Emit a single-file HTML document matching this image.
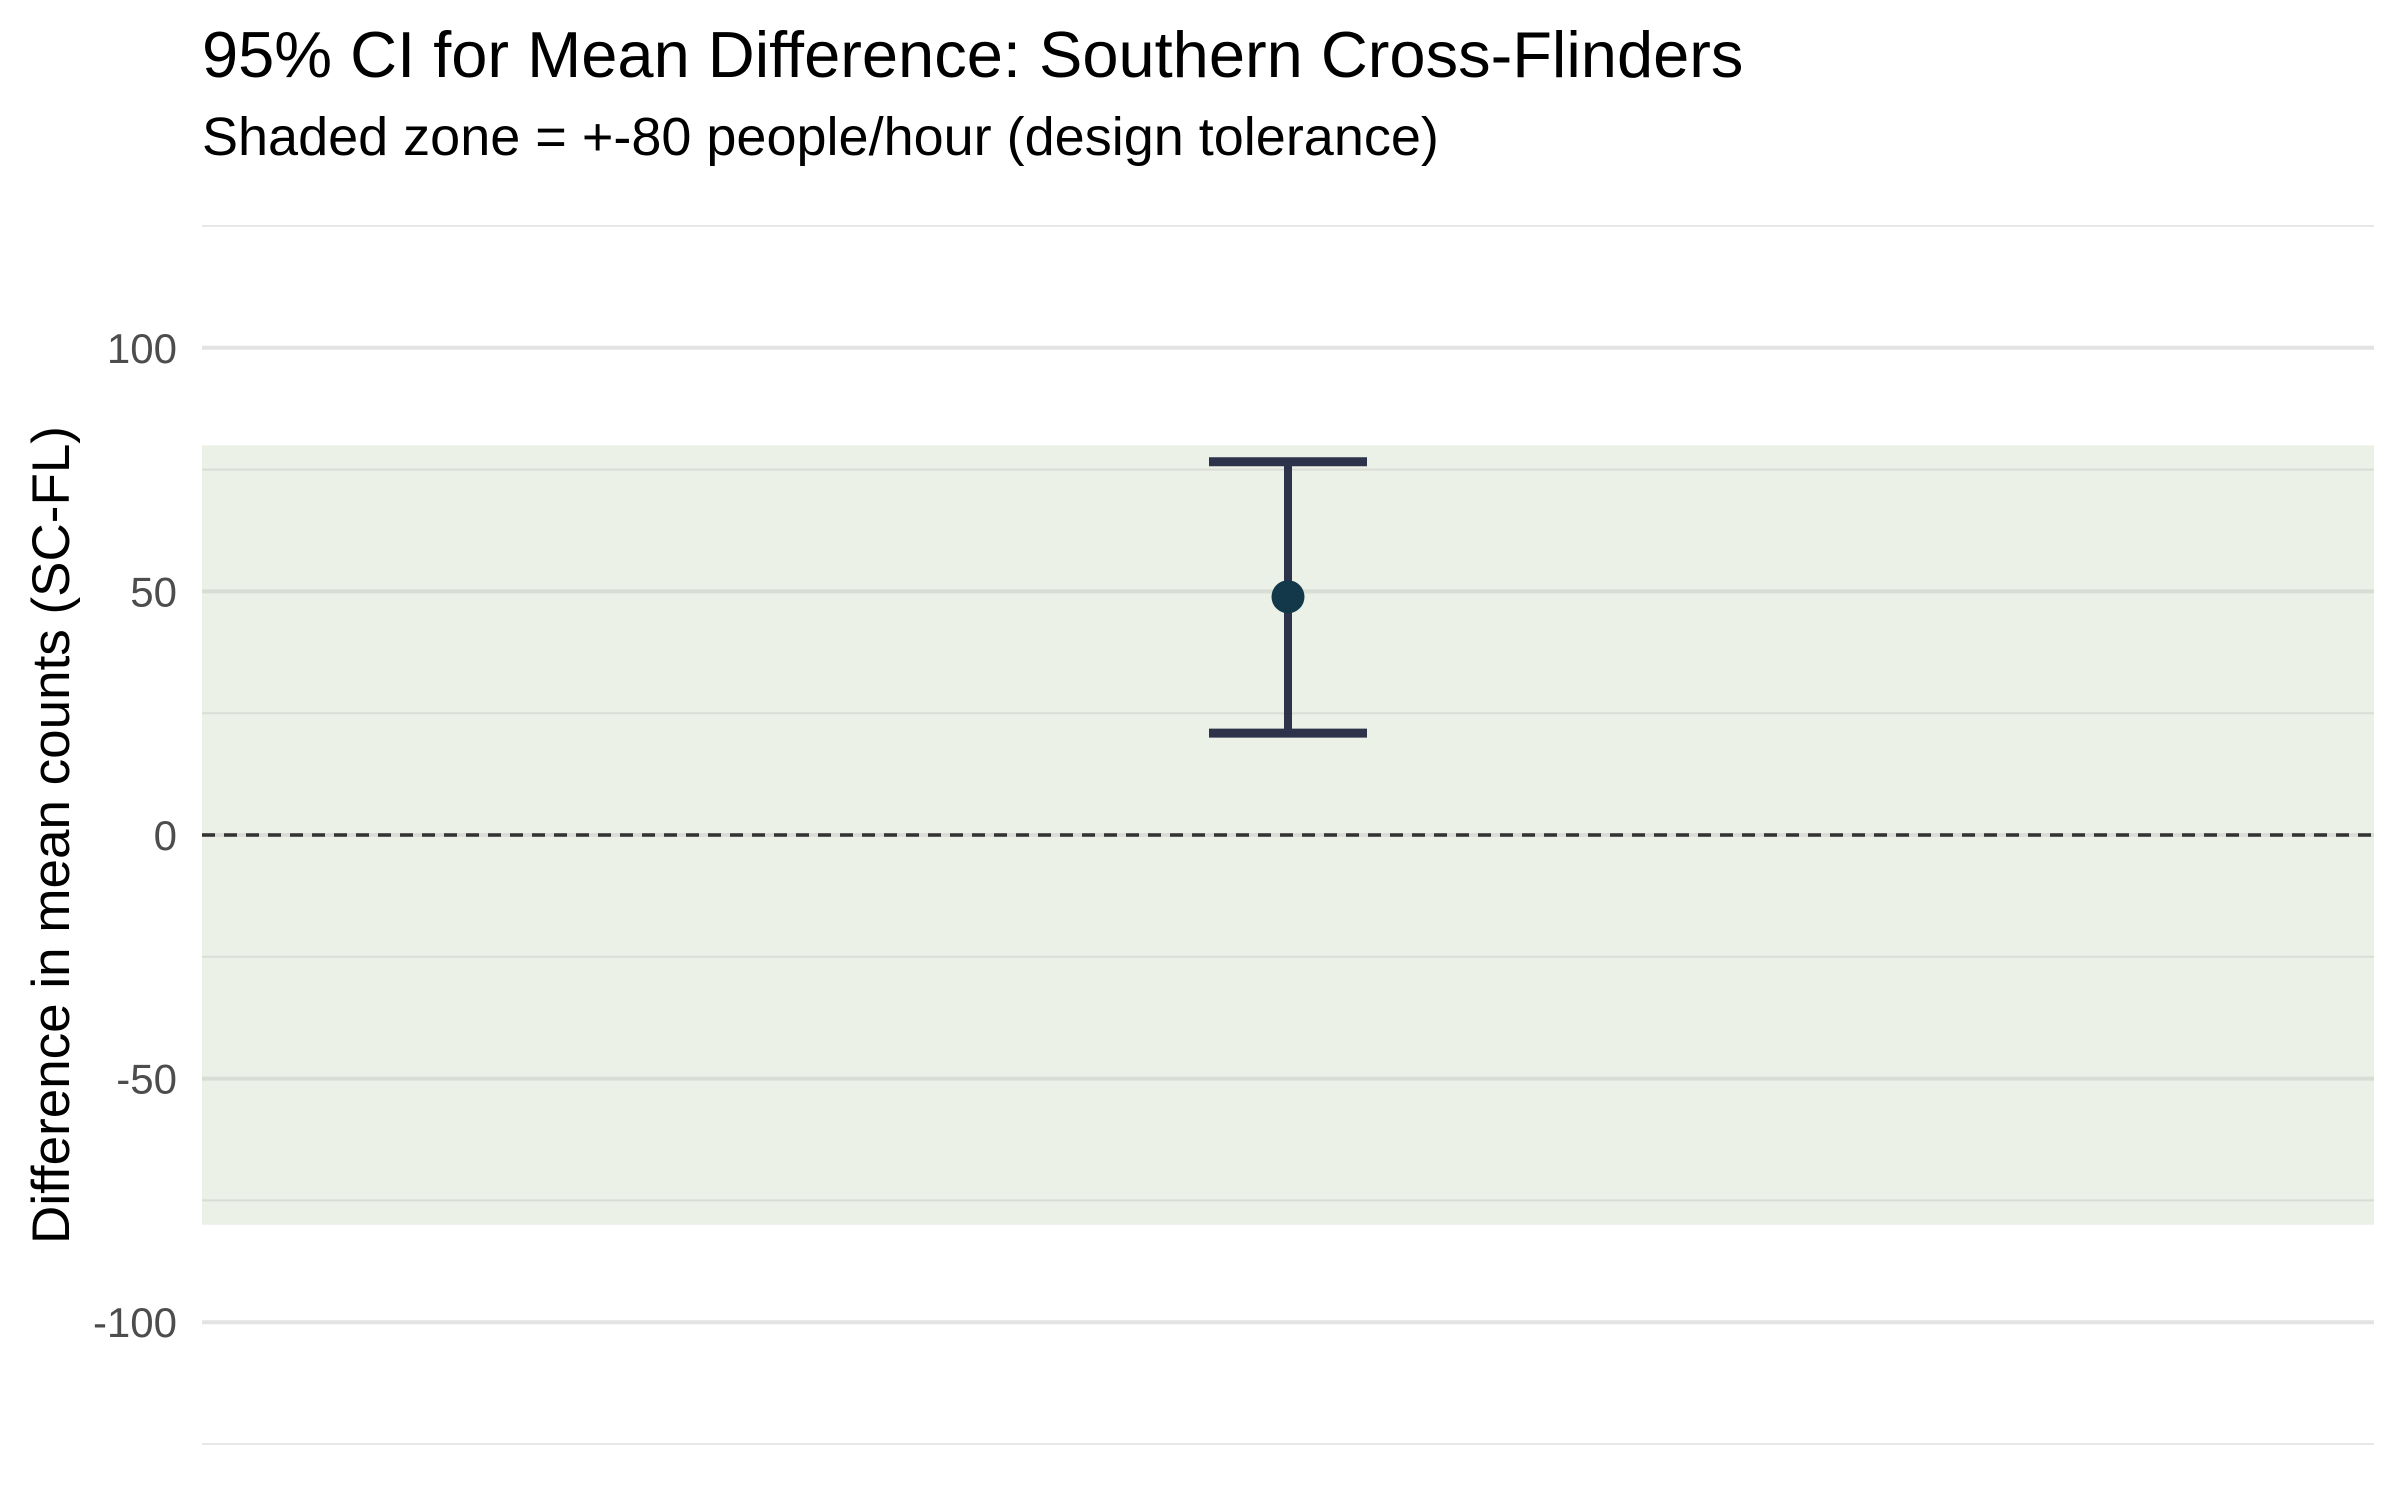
<!DOCTYPE html>
<html><head><meta charset="utf-8"><style>
html,body{margin:0;padding:0;background:#fff;}
svg{display:block;font-family:"Liberation Sans",Arial,sans-serif;}
</style></head><body>
<svg id="chart" width="2400" height="1500" viewBox="0 0 2400 1500">
<text x="202" y="77" font-size="65" fill="#000">95% CI for Mean Difference: Southern Cross-Flinders</text>
<text x="202" y="155" font-size="54" fill="#000">Shaded zone = +-80 people/hour (design tolerance)</text>
<text transform="translate(69,835) rotate(-90)" text-anchor="middle" font-size="53" fill="#000">Difference in mean counts (SC-FL)</text>
<g id="grid"></g><g id="zone"></g><g id="grid2"></g><g id="ticks"></g><g id="marks"></g>
</svg>
<script>
const categories = ["Southern Cross-Flinders"];
const meanValues = [48.9];
const lowerValues = [20.9];
const upperValues = [76.6];
const tolerance = [80];
const majorTicks = [-100, -50, 0, 50, 100];
const minorTicks = [-125, -75, -25, 25, 75, 125];
const tickLabels = ["-100", "-50", "0", "50", "100"];

const NS = "http://www.w3.org/2000/svg";
const L = 202, R = 2374, T = 226, B = 1444, yMin = -125, yMax = 125;
function y(v){ return B - (v - yMin) / (yMax - yMin) * (B - T); }
function x(i){ return L + (i + 0.5) * ((R - L) / categories.length); }
function mk(tag, attrs, parent){
  const e = document.createElementNS(NS, tag);
  for (const k in attrs) e.setAttribute(k, attrs[k]);
  document.getElementById(parent).appendChild(e);
  return e;
}
majorTicks.forEach(function(v, i){
  const g = mk("line", {x1:L, x2:R, y1:y(v), y2:y(v), stroke:"#e3e3e3", "stroke-width":4}, "grid");
  
  
  const t = mk("text", {x:177, y:y(v)+15, "text-anchor":"end", "font-size":42, fill:"#4d4d4d"}, "ticks");
  t.textContent = tickLabels[i];
  
  
});
minorTicks.forEach(function(v){
  const g = mk("line", {x1:L, x2:R, y1:y(v), y2:y(v), stroke:"#e8e8e8", "stroke-width":2}, "grid");
  
  
});
const z = mk("rect", {x:L, y:y(tolerance[0]), width:R-L, height:y(-tolerance[0])-y(tolerance[0]), fill:"#ecf1e8"}, "zone");


majorTicks.concat(minorTicks).forEach(function(v){
  if (Math.abs(v) < tolerance[0]) {
    const g = mk("line", {x1:L, x2:R, y1:y(v), y2:y(v), stroke:"#d9ddd5", "stroke-width":majorTicks.indexOf(v) >= 0 ? 4 : 2}, "grid2");
    
    
  }
});
const zl = mk("line", {x1:L, x2:R, y1:y(0), y2:y(0), stroke:"#333", "stroke-width":3.5, "stroke-dasharray":"13 9"}, "marks");


categories.forEach(function(c, i){
  const cx = x(i);
  const v = mk("line", {x1:cx, x2:cx, y1:y(upperValues[i]), y2:y(lowerValues[i]), stroke:"#2d334a", "stroke-width":8}, "marks");
  
  
  [upperValues[i], lowerValues[i]].forEach(function(val){
    const cap = mk("line", {x1:cx-79, x2:cx+79, y1:y(val), y2:y(val), stroke:"#2d334a", "stroke-width":9}, "marks");
    
    
  });
  const p = mk("circle", {cx:cx, cy:y(meanValues[i]), r:16.5, fill:"#13384a"}, "marks");
  
  
});
</script>
</body></html>
